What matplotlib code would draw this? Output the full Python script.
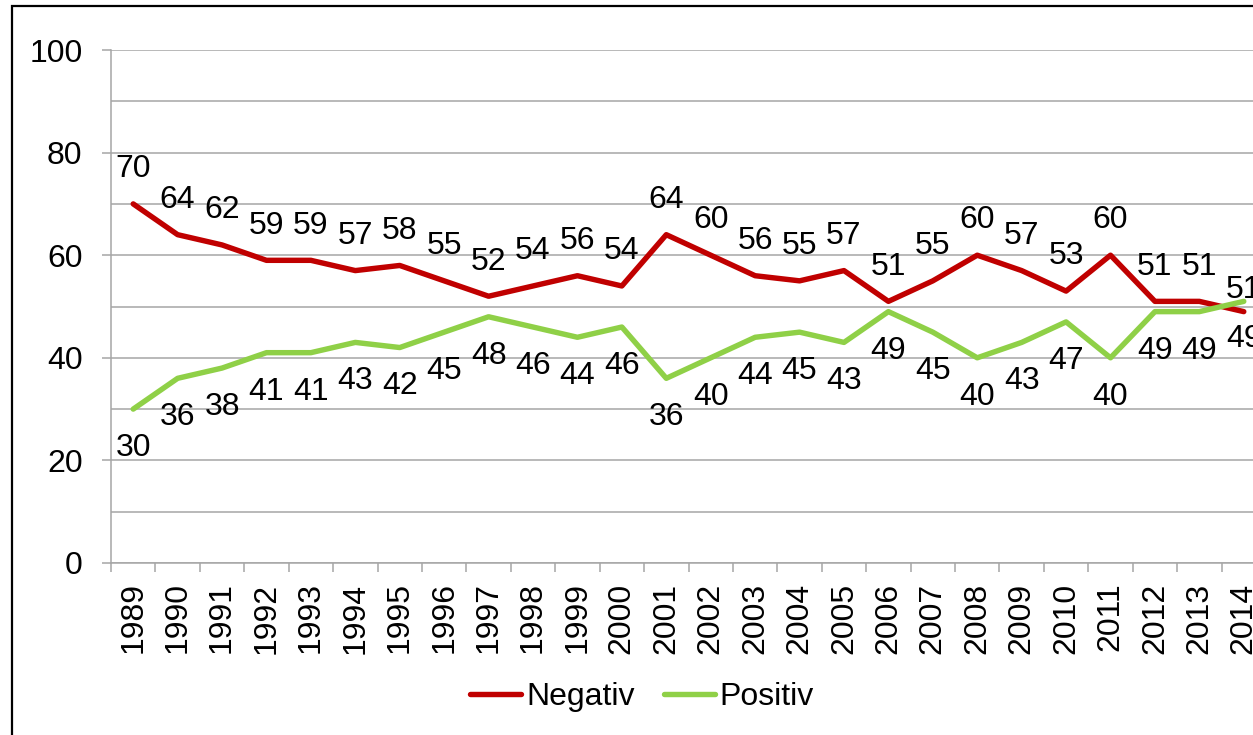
import matplotlib
matplotlib.use("Agg")
import matplotlib.pyplot as plt
from matplotlib.patches import Rectangle
from matplotlib.ticker import MultipleLocator

# ── Data ───────────────────────────────────────────────
years = [str(y) for y in range(1989, 2015)]
negativ = [70, 64, 62, 59, 59, 57, 58, 55, 52, 54, 56, 54, 64,
           60, 56, 55, 57, 51, 55, 60, 57, 53, 60, 51, 51, 49]
positiv = [30, 36, 38, 41, 41, 43, 42, 45, 48, 46, 44, 46, 36,
           40, 44, 45, 43, 49, 45, 40, 43, 47, 40, 49, 49, 51]

RED = "#C00000"
GREEN = "#8FD047"
GRID = "#A6A6A6"
FS = 23

plt.rcParams["font.family"] = ["Liberation Sans", "DejaVu Sans"]

W, H = 1253, 735
fig = plt.figure(figsize=(W / 100, H / 100), dpi=100)

# axes extends past the right edge like the original crop
left, right, top, bottom = 111, 1266, 50, 563
ax = fig.add_axes([left / W, 1 - bottom / H, (right - left) / W, (bottom - top) / H])

x = list(range(len(years)))
ax.plot(x, negativ, color=RED, lw=3.9, solid_capstyle="round", label="Negativ", zorder=3)
ax.plot(x, positiv, color=GREEN, lw=3.9, solid_capstyle="round", label="Positiv", zorder=3)

# higher value labelled above, lower value below
last = len(years) - 1
for i, (n, p) in enumerate(zip(negativ, positiv)):
    hi, lo = max(n, p), min(n, p)
    up, down = (25, -28) if i != last else (8, -20)
    ax.annotate(str(hi), (i, hi), xytext=(0, up), textcoords="offset points",
                ha="center", va="center", fontsize=FS, annotation_clip=False)
    ax.annotate(str(lo), (i, lo), xytext=(0, down), textcoords="offset points",
                ha="center", va="center", fontsize=FS, annotation_clip=False)

# ── Axes styling ───────────────────────────────────────
ax.set_xlim(-0.5, len(years) - 0.5)
ax.set_ylim(0, 100)
ax.yaxis.set_major_locator(MultipleLocator(20))
ax.yaxis.set_minor_locator(MultipleLocator(10))
ax.grid(True, axis="y", which="both", color=GRID, lw=1.1, zorder=0)
ax.set_axisbelow(True)

ax.set_xticks([i - 0.5 for i in range(len(years) + 1)])
ax.set_xticklabels([])
ax.set_xticks(x, minor=True)
ax.set_xticklabels(years, minor=True, rotation=90, fontsize=FS)
ax.tick_params(axis="x", which="major", length=6.5, width=1.1, color=GRID, direction="out")
ax.tick_params(axis="x", which="minor", length=0, pad=14)
ax.tick_params(axis="y", which="major", length=6.5, width=1.1, color=GRID, labelsize=FS, pad=14)
ax.tick_params(axis="y", which="minor", length=0)

for s in ["top", "right"]:
    ax.spines[s].set_visible(False)
for s in ["left", "bottom"]:
    ax.spines[s].set_color(GRID)
    ax.spines[s].set_linewidth(1.1)

# ── Legend ─────────────────────────────────────────────
fig.legend(loc="center", bbox_to_anchor=(642 / W, 1 - 697 / H), ncol=2,
           frameon=False, fontsize=FS, handlelength=1.6, handletextpad=0.15,
           columnspacing=0.9)

# outer frame (cut off at right and bottom)
fig.patches.append(Rectangle((12 / W, -0.1), 1.2, 1 - 6 / H + 0.1,
                             transform=fig.transFigure, fill=False,
                             edgecolor="black", lw=1.6, zorder=10))

fig.savefig("out.png", dpi=100)
